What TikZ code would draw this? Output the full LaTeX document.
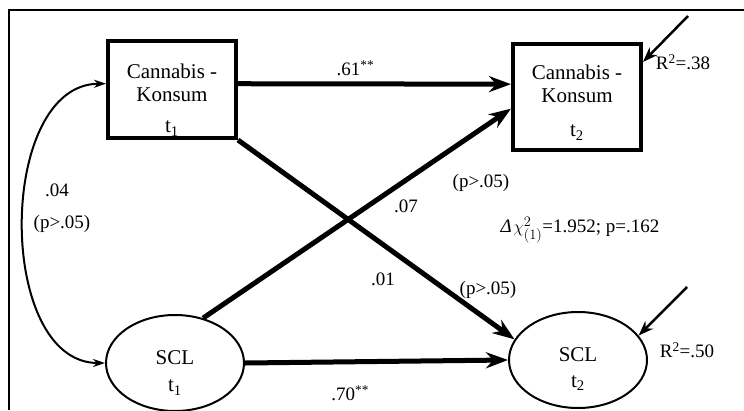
\documentclass[tikz,border=0pt]{standalone}
\usepackage{fontspec}
\setmainfont{Liberation Serif}
\usetikzlibrary{arrows.meta, positioning, shapes.geometric}

\begin{document}
\begin{tikzpicture}[x=1pt,y=-1pt,>={Stealth[length=22pt,width=16pt]},
                    font=\fontsize{21}{23}\selectfont,
                    box/.style={draw,line width=4pt,minimum width=128pt,
                                minimum height=97pt,align=center,inner sep=0pt},
                    var/.style={draw,ellipse,line width=2pt,minimum width=138pt,
                                minimum height=96pt,align=center,inner sep=0pt},
                    coef/.style={font=\fontsize{19}{21}\selectfont},
                    effect/.style={->,line width=5pt},
                    resid/.style={-{Stealth[length=15pt,width=11pt]},line width=2.5pt}]
   \useasboundingbox (0,0) rectangle (744,410);
   \draw[line width=1.5pt] (9,410) -- (9,10) -- (744,10);
   \node[box] (k_1) at (172,89.5) {\rule{0pt}{36pt}Cannabis -\\Konsum\\[8pt]t\textsubscript{1}};
   \node[box,minimum height=106pt] (k_2) [right=273pt of k_1,yshift=-7.5pt]
        {\rule{0pt}{26pt}Cannabis -\\Konsum\\[11pt]t\textsubscript{2}};
   \node[var] (s_1) [below=174pt of k_1,xshift=3pt] {\rule{0pt}{34pt}SCL\\[4pt]t\textsubscript{1}};
   \node[var] (s_2) [below=159pt of k_2,xshift=1pt] {\rule{0pt}{32pt}SCL\\[3pt]t\textsubscript{2}};
   \path[effect]
    (k_1.5) edge node[coef,above=2pt,pos=.43] {.61\textsuperscript{**}} (k_2.169)
    (k_1.south east) edge (s_2.162)
    (s_1.58) edge (k_2.190)
    (s_1.east) edge node[coef,below=18pt,pos=.4] {.70\textsuperscript{**}} (s_2.west);
   \draw[{Stealth[length=12pt,width=8pt]}-{Stealth[length=12pt,width=8pt]},line width=2pt]
    (k_1.175) to[out=180,in=180] (s_1.west);
   \coordinate (e_k) at (688,16);
   \coordinate (e_s) at (687,287);
   \draw[resid] (e_k) -- (k_2.28);
   \draw[resid] (e_s) -- (s_2.22);
   \node[coef] (c_04) at (57,190) {.04};
   \node[coef] (p_04) at (62,224) {(p>.05)};
   \node[coef] (c_07) at (406,206) {.07};
   \node[coef] (p_07) at (481,183) {(p>.05)};
   \node[coef] (c_01) at (383,279) {.01};
   \node[coef] (p_01) at (488,290) {(p>.05)};
   \node[coef] (chi) at (580,230) {\textit{Δ}\kern1.5pt$\chi^2_{(1)}$=1.952; p=.162};
   \node[coef] (r_k) at (683,62) {R\textsuperscript{2}=.38};
   \node[coef] (r_s) at (687,350) {R\textsuperscript{2}=.50};
\end{tikzpicture}
\end{document}
